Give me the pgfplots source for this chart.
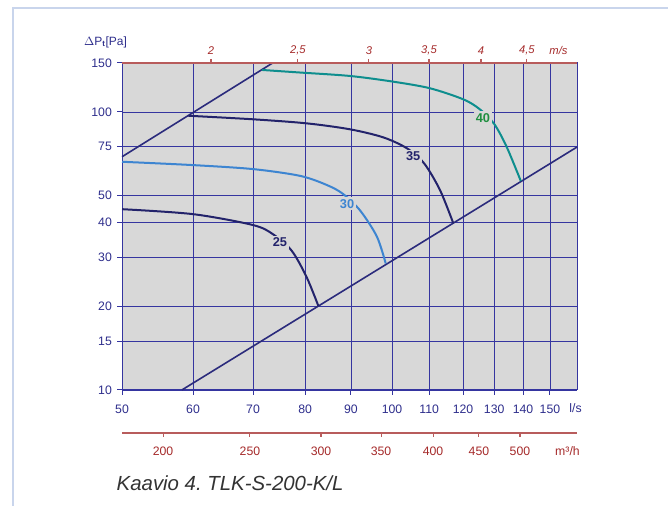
\documentclass[border=0pt]{standalone}
\usepackage{fontspec}
\setmainfont{Liberation Sans}
\usepackage{pgfplots}
\pgfplotsset{compat=1.18}
\frenchspacing
\definecolor{bggray}{HTML}{D8D8D8}
\definecolor{gridnavy}{HTML}{3535A0}
\definecolor{gridlight}{HTML}{9A9ACC}
\definecolor{navyc}{HTML}{23236B}
\definecolor{diagc}{HTML}{2B2B7C}
\definecolor{blue30}{HTML}{3D85D1}
\definecolor{teal40}{HTML}{0E8E8E}
\definecolor{green40}{HTML}{1F8F3F}
\definecolor{redtext}{HTML}{A52A2A}
\definecolor{redline}{HTML}{B85C5C}
\definecolor{textnavy}{HTML}{2E2E8C}
\definecolor{framec}{HTML}{C9D5EC}
\newcommand{\tickfont}{\fontsize{9.2}{10}\selectfont}
\begin{document}
\begin{tikzpicture}[x=0.75pt,y=0.75pt]
\useasboundingbox (0,0) rectangle (668,506);
\draw[framec, line width=1.7pt] (12.8,0) -- (12.8,498.2) -- (668,498.2);
% main axis
\begin{axis}[
  at={(91.5pt,87pt)}, anchor=south west, scale only axis,
  width=341.25pt, height=245.25pt,
  xmode=log, ymode=log, xmin=50, xmax=160.8, ymin=10, ymax=150,
  clip=false,
  axis background/.style={fill=bggray},
  /pgf/number format/assume math mode=true,
  xtick={50,60,70,90,100,120,130,140,150},
  xticklabels={50,60,70,90,100,120,130,140,150},
  extra x ticks={80,110}, extra x tick labels={80,110},
  extra x tick style={grid style={color=gridlight, line width=0.7pt}},
  ytick={10,15,20,30,40,50,75,100,150},
  yticklabels={10,15,20,30,40,50,75,100,150},
  grid=major, major grid style={color=gridnavy, line width=0.65pt},
  axis line style={color=gridnavy, line width=0.75pt},
  tick style={color=gridnavy, line width=0.75pt},
  tick align=outside, tick pos=left, major tick length=3.6pt,
  minor tick length=0pt,
  ticklabel style={font=\tickfont, text=textnavy},
  xticklabel style={anchor=north, yshift=-4pt},
  yticklabel style={anchor=east, xshift=-0.5pt},
]
\addplot[diagc, line width=1.2pt] coordinates {(50,69.0) (73.6,150)};
\addplot[diagc, line width=1.2pt] coordinates {(58.3,10) (160.8,74.8)};
\addplot[teal40, line width=1.5pt, smooth, tension=0.5] coordinates {
 (71.6,141.6) (79.0,138.6) (89.8,134.7) (100.3,128.5) (110.2,121.7)
 (120.1,111.0) (125.3,102.2) (130.0,90.5) (134.2,75.0) (139.2,56.4)};
\addplot[navyc, line width=1.5pt, smooth, tension=0.5] coordinates {
 (59.3,96.9) (70.0,94.1) (80.3,91.0) (89.8,86.6) (97.8,81.0) (103.9,74.0)
 (108.6,65.3) (113.1,52.4) (117.0,39.9)};
\addplot[blue30, line width=1.5pt, smooth, tension=0.5] coordinates {
 (50,66.2) (60,64.4) (70,62.3) (79,58.9) (84.6,54.6) (88.2,50.7)
 (92.2,44.1) (96.2,35.6) (98.4,28.5)};
\addplot[navyc, line width=1.5pt, smooth, tension=0.5] coordinates {
 (50,44.7) (60,42.9) (70,39.2) (73.7,36.3) (77.3,31.7) (80.3,25.5) (82.8,20.0)};
\node[fill=bggray, inner sep=1.4pt, text=green40, font=\bfseries\fontsize{9.6}{10}\selectfont] at (axis cs:126.3,95.3) {40};
\node[fill=bggray, inner sep=1.4pt, text=navyc, font=\bfseries\fontsize{9.6}{10}\selectfont] at (axis cs:105.6,69.4) {35};
\node[fill=bggray, inner sep=1.4pt, text=blue30, font=\bfseries\fontsize{9.6}{10}\selectfont] at (axis cs:89.1,46.7) {30};
\node[fill=bggray, inner sep=1.4pt, text=navyc, font=\bfseries\fontsize{9.6}{10}\selectfont] at (axis cs:75.0,33.9) {25};
\draw[redline, line width=0.8pt] (rel axis cs:0,1) -- (rel axis cs:1,1);
\end{axis}
% top m/s axis
\begin{axis}[
  at={(91.5pt,87pt)}, anchor=south west, scale only axis,
  width=341.25pt, height=245.25pt,
  xmode=log, xmin=50, xmax=160.8, ymin=0, ymax=1,
  hide y axis, axis x line*=top,
  axis line style={draw=none},
  xtick={62.83,78.54,94.25,109.96,125.66,141.37},
  xticklabels={2,{2,5},3,{3,5},4,{4,5}},
  tick style={color=redline, line width=0.8pt},
  tick align=outside, major tick length=3pt,
  ticklabel style={font=\itshape\fontsize{8.4}{10}\selectfont, text=redtext},
  xticklabel style={anchor=south, yshift=-0.5pt},
]
\end{axis}
% bottom m3/h axis
\begin{axis}[
  at={(91.5pt,54.75pt)}, anchor=south west, scale only axis,
  width=341.25pt, height=10pt,
  xmode=log, xmin=50, xmax=160.8, ymin=0, ymax=1,
  hide y axis, axis x line*=bottom,
  axis line style={color=redline, line width=0.8pt, -},
  xtick={55.556,69.444,83.333,97.222,111.111,125,138.889},
  xticklabels={200,250,300,350,400,450,500},
  tick style={color=redline, line width=0.8pt},
  tick align=outside, major tick length=3pt,
  ticklabel style={font=\tickfont, text=redtext},
  xticklabel style={anchor=north, yshift=-4pt},
]
\end{axis}
% unit labels
\node[text=textnavy, font=\fontsize{9}{10}\selectfont] at (105.5,464) {$\Delta$P$_{\mathbf{t}}$[Pa]};
\node[text=redtext, font=\itshape\fontsize{8.4}{10}\selectfont] at (558.5,455.3) {m/s};
\node[text=textnavy, font=\tickfont] at (575.5,98) {l/s};
\node[text=redtext, font=\tickfont] at (567.5,55.3) {m³/h};
\node[anchor=west, font=\itshape\fontsize{15.3}{17}\selectfont, text=black!80] at (112,23) {Kaavio 4. TLK-S-200-K/L};
\end{tikzpicture}
\end{document}
